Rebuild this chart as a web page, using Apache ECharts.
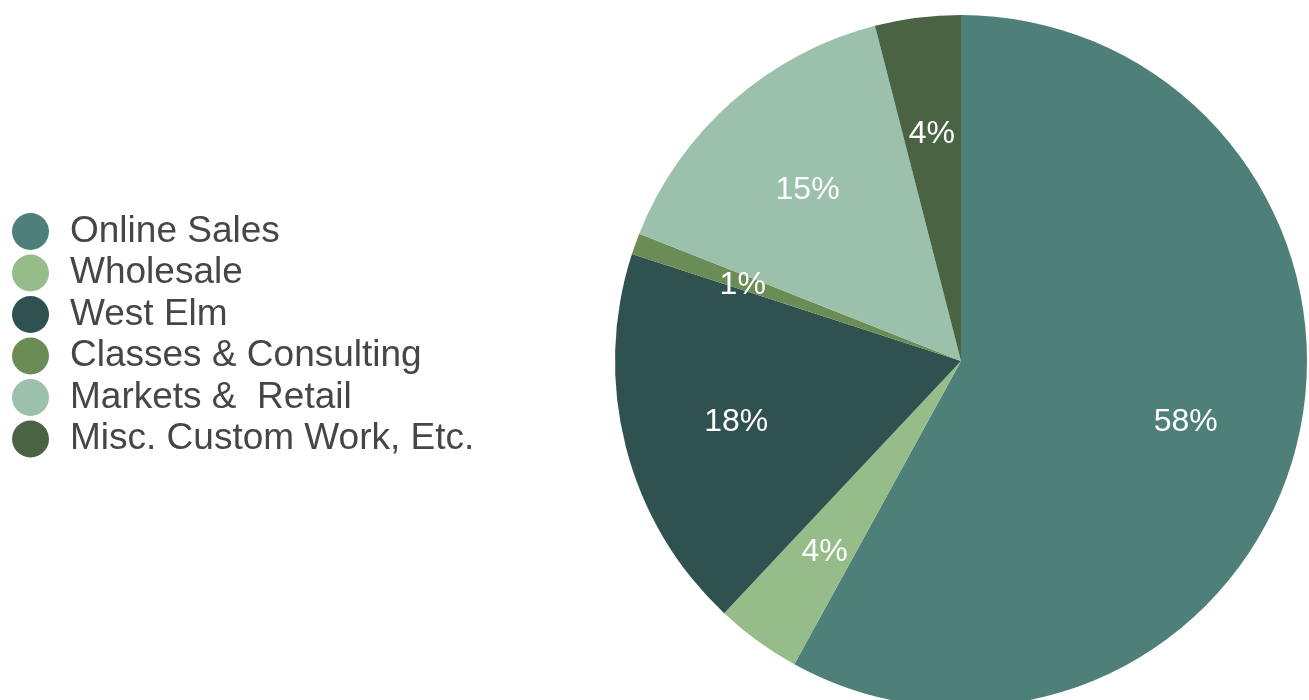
<!DOCTYPE html>
<html>
<head>
<meta charset="utf-8">
<style>
  html, body { margin: 0; padding: 0; background: #ffffff; }
  #chart { width: 1309px; height: 700px; }
</style>
<script src="https://cdn.jsdelivr.net/npm/echarts@6/dist/echarts.min.js"></script>
</head>
<body>
<div id="chart"></div>
<script>
const categories = ['Online Sales', 'Wholesale', 'West Elm', 'Classes & Consulting', 'Markets &  Retail', 'Misc. Custom Work, Etc.'];
const values = [58, 4, 18, 1, 15, 4];
const colors = ['#4E8079', '#96BC8A', '#2F5250', '#698D55', '#9BC0AC', '#4A6343'];

const chart = echarts.init(document.getElementById('chart'), null, { renderer: 'canvas' });

const sliceData = categories.map((name, i) => ({ name, value: values[i], itemStyle: { color: colors[i] } }));
const labelData = categories.map((name, i) => ({ name, value: values[i] }));

chart.setOption({
  animation: false,
  backgroundColor: '#ffffff',
  legend: {
    orient: 'vertical',
    left: 12,
    top: 213,
    padding: 0,
    icon: 'circle',
    itemWidth: 37,
    itemHeight: 37,
    itemGap: 4.5,
    selectedMode: false,
    data: categories,
    textStyle: {
      fontFamily: 'Liberation Sans, Arial, Helvetica, sans-serif',
      fontSize: 37,
      color: '#464646',
      lineHeight: 27,
      padding: [10, 0, 0, 16]
    }
  },
  series: [
    {
      type: 'pie',
      center: [961, 361],
      radius: [0, 346],
      startAngle: 90,
      clockwise: true,
      silent: true,
      label: { show: false },
      labelLine: { show: false },
      emphasis: { disabled: true },
      itemStyle: { borderWidth: 0 },
      data: sliceData
    },
    {
      type: 'pie',
      center: [961, 361],
      radius: [112, 346],
      startAngle: 90,
      clockwise: true,
      silent: true,
      legendHoverLink: false,
      itemStyle: { color: 'rgba(0,0,0,0)', borderWidth: 0 },
      emphasis: { disabled: true },
      labelLine: { show: false },
      label: {
        show: true,
        position: 'inside',
        formatter: '{c}%',
        color: '#ffffff',
        fontFamily: 'Liberation Sans, Arial, Helvetica, sans-serif',
        fontSize: 32,
        offset: [0, 3]
      },
      data: labelData
    }
  ]
});
</script>
</body>
</html>
